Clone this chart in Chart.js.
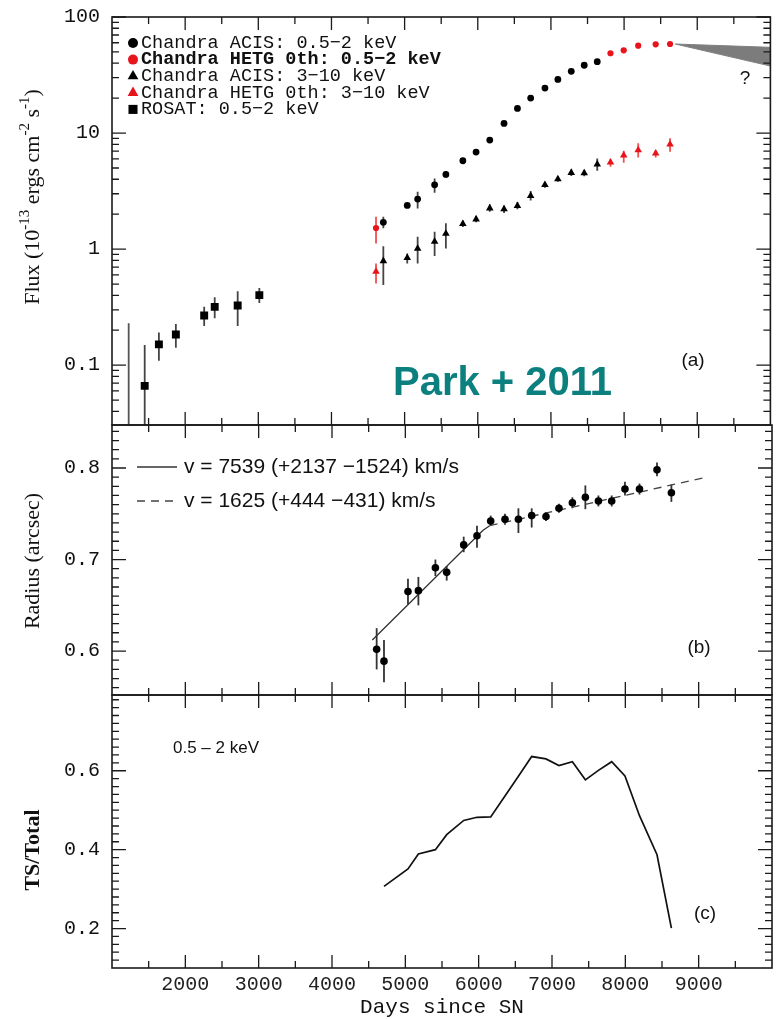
<!DOCTYPE html>
<html><head><meta charset="utf-8">
<script src="https://cdn.jsdelivr.net/npm/chart.js@4.4.1/dist/chart.umd.min.js"></script>
<style>
html,body{margin:0;padding:0;background:#fff;}
#wrap{position:relative;width:776px;height:1019px;overflow:hidden;background:#fff;}
canvas{position:absolute;left:0;}
</style></head><body>
<div id="wrap">
<canvas id="ca" width="776" height="432" style="top:0px"></canvas>
<canvas id="cb" width="776" height="284" style="top:418px"></canvas>
<canvas id="cc" width="776" height="330" style="top:689px"></canvas>
</div>
<script>
// ---------------- data ----------------
// Panel (a): X-ray light curves
const acisDays = [4709, 5036, 5178, 5410, 5564, 5796, 5977, 6164, 6359, 6542, 6723, 6918, 7095, 7278, 7455, 7633];
const acisSoftFlux = [1.70, 2.38, 2.70, 3.58, 4.40, 5.77, 6.85, 8.70, 12.1, 16.3, 20.0, 24.4, 29.0, 34.0, 38.4, 41.2];
const acisSoftLo   = [1.51, 2.30, 2.24, 3.06, 4.15, 5.54, 6.58, 8.35, 11.6, 15.6, 19.2, 23.4, 27.8, 32.6, 36.9, 39.6];
const acisSoftHi   = [1.90, 2.46, 3.12, 4.06, 4.68, 6.00, 7.12, 9.05, 12.6, 17.0, 20.8, 25.4, 30.2, 35.4, 39.9, 42.8];
const acisHardFlux = [0.79, 0.84, 1.01, 1.16, 1.36, 1.65, 1.81, 2.25, 2.21, 2.36, 2.88, 3.58, 4.01, 4.55, 4.52, 5.37];
const acisHardLo   = [0.49, 0.753, 0.753, 0.87, 1.01, 1.55, 1.70, 2.10, 2.05, 2.20, 2.62, 3.38, 3.80, 4.27, 4.25, 4.73];
const acisHardHi   = [1.06, 0.918, 1.28, 1.41, 1.67, 1.76, 1.93, 2.42, 2.38, 2.55, 3.17, 3.80, 4.24, 4.86, 4.82, 6.05];
const hetgDays = [4609, 7814, 7995, 8193, 8432, 8628];
const hetgSoftFlux = [1.52, 48.7, 51.6, 56.6, 58.2, 58.5];
const hetgSoftLo   = [1.12, 47.2, 50.0, 54.9, 56.5, 56.7];
const hetgSoftHi   = [1.90, 50.2, 53.2, 58.3, 59.9, 60.3];
const hetgHardFlux = [0.64, 5.59, 6.42, 7.13, 6.68, 8.00];
const hetgHardLo   = [0.506, 5.13, 5.55, 6.17, 6.17, 6.90];
const hetgHardHi   = [0.753, 5.97, 7.03, 8.15, 7.13, 9.00];
const rosatDays = [1447, 1641, 1873, 2260, 2404, 2718, 3014];
const rosatFlux = [0.0663, 0.151, 0.184, 0.268, 0.318, 0.327, 0.401];
const rosatLo   = [0.010, 0.109, 0.141, 0.217, 0.253, 0.217, 0.344];
const rosatHi   = [0.149, 0.191, 0.226, 0.318, 0.384, 0.434, 0.463];
const rosatLimitDays = [1228];
const rosatLimitFlux = [0.02];
const rosatLimitLo = [0.010];
const rosatLimitHi = [0.230];
const wedgeDays  = [8700, 10000];
const wedgeUpper = [58.5, 54.8];
const wedgeLower = [58.5, 37.8];

// Panel (b): radius
const radDays = [4609, 4709, 5036, 5178, 5410, 5564, 5796, 5977, 6164, 6359, 6542, 6723, 6918, 7095, 7278, 7455, 7633, 7814, 7995, 8193, 8432, 8628];
const radius  = [0.602, 0.589, 0.665, 0.666, 0.691, 0.686, 0.716, 0.726, 0.742, 0.744, 0.744, 0.748, 0.747, 0.756, 0.762, 0.768, 0.764, 0.764, 0.777, 0.777, 0.798, 0.773];
const radLo   = [0.580, 0.566, 0.651, 0.650, 0.682, 0.677, 0.708, 0.713, 0.737, 0.738, 0.729, 0.735, 0.742, 0.751, 0.756, 0.755, 0.758, 0.758, 0.770, 0.771, 0.791, 0.763];
const radHi   = [0.625, 0.612, 0.679, 0.681, 0.700, 0.693, 0.725, 0.737, 0.748, 0.750, 0.756, 0.756, 0.752, 0.761, 0.768, 0.781, 0.770, 0.770, 0.785, 0.783, 0.806, 0.782];
const fastFitDays = [4550, 6060, 6150];
const fastFitR    = [0.612, 0.732, 0.737];
const slowFitDays = [6150, 9050];
const slowFitR    = [0.737, 0.789];

// Panel (c): TS/Total ratio
const tsDays  = [4709, 5036, 5178, 5410, 5564, 5796, 5977, 6164, 6359, 6542, 6723, 6918, 7095, 7278, 7455, 7633, 7814, 7995, 8193, 8432, 8628];
const tsRatio = [0.307, 0.351, 0.389, 0.400, 0.438, 0.474, 0.482, 0.483, 0.536, 0.586, 0.636, 0.630, 0.613, 0.623, 0.577, 0.601, 0.623, 0.587, 0.486, 0.387, 0.201];

// Axis ticks
const dayMajorTicks = [2000, 3000, 4000, 5000, 6000, 7000, 8000, 9000];
const dayMinorTicks = [1500, 2500, 3500, 4500, 5500, 6500, 7500, 8500, 9500];
const fluxMajorTicks = [0.1, 1, 10, 100];
const fluxMinorTicks = [0.04,0.05,0.06,0.07,0.08,0.09,0.2,0.3,0.4,0.5,0.6,0.7,0.8,0.9,2,3,4,5,6,7,8,9,20,30,40,50,60,70,80,90];
const radiusMajorTicks = [0.6, 0.7, 0.8];
const radiusMinorTicks = [0.56,0.57,0.58,0.59,0.61,0.62,0.63,0.64,0.65,0.66,0.67,0.68,0.69,0.71,0.72,0.73,0.74,0.75,0.76,0.77,0.78,0.79,0.81,0.82,0.83,0.84];
const ratioMajorTicks = [0.2, 0.4, 0.6];
const ratioMinorTicks = [0.12,0.14,0.16,0.18,0.22,0.24,0.26,0.28,0.3,0.32,0.34,0.36,0.38,0.42,0.44,0.46,0.48,0.5,0.52,0.54,0.56,0.58,0.62,0.64,0.66,0.68,0.7,0.72,0.74,0.76,0.78];

// ---------------- helpers & plugins ----------------
const pts = (xs, ys) => xs.map((x, i) => ({x: x, y: ys[i]}));
const RED = '#e8141c';
const MONO = '"Liberation Mono", "DejaVu Sans Mono", monospace';
const SANS = '"Liberation Sans", Arial, sans-serif';
const SERIF = '"Liberation Serif", "DejaVu Serif", serif';

const errorBars = {
  id: 'errorBars',
  beforeDatasetsDraw(chart) {
    const {ctx, chartArea: a} = chart;
    ctx.save();
    ctx.beginPath(); ctx.rect(a.left, a.top, a.right - a.left, a.bottom - a.top); ctx.clip();
    chart.data.datasets.forEach((ds, di) => {
      if (!ds.errLo) return;
      const meta = chart.getDatasetMeta(di);
      const xs = chart.scales[meta.xAxisID], ys = chart.scales[meta.yAxisID];
      ctx.strokeStyle = ds.errColor; ctx.lineWidth = ds.errWidth || 1.8;
      ds.data.forEach((p, i) => {
        const x = xs.getPixelForValue(p.x);
        ctx.beginPath();
        ctx.moveTo(x, ys.getPixelForValue(ds.errLo[i]));
        ctx.lineTo(x, ys.getPixelForValue(ds.errHi[i]));
        ctx.stroke();
      });
    });
    ctx.restore();
  }
};

const frameTicks = {
  id: 'frameTicks',
  afterDatasetsDraw(chart, args, o) {
    const {ctx, chartArea: a} = chart;
    const xs = chart.scales.x, ys = chart.scales.y;
    ctx.save();
    ctx.strokeStyle = '#1a1a1a';
    ctx.lineWidth = 1.3;
    ctx.beginPath();
    const vx = (v, len) => { const p = xs.getPixelForValue(v); ctx.moveTo(p, a.top); ctx.lineTo(p, a.top + len); ctx.moveTo(p, a.bottom); ctx.lineTo(p, a.bottom - len); };
    const hy = (v, len) => { const p = ys.getPixelForValue(v); ctx.moveTo(a.left, p); ctx.lineTo(a.left + len, p); ctx.moveTo(a.right, p); ctx.lineTo(a.right - len, p); };
    o.xMajor.forEach(v => vx(v, o.majorLen));
    o.xMinor.forEach(v => vx(v, o.minorLen));
    o.yMajor.forEach(v => hy(v, o.majorLen + 1));
    o.yMinor.forEach(v => hy(v, o.minorLen));
    ctx.stroke();
    ctx.lineWidth = 1.6;
    ctx.strokeRect(a.left, a.top, a.right - a.left, a.bottom - a.top);
    ctx.restore();
  }
};

const texts = {
  id: 'texts',
  afterDraw(chart, args, o) {
    const ctx = chart.ctx;
    (o.items || []).forEach(it => {
      ctx.save();
      ctx.translate(it.x, it.y - o.top);
      if (it.rotate) ctx.rotate(it.rotate);
      ctx.fillStyle = it.color || '#111';
      ctx.textBaseline = 'middle';
      ctx.textAlign = 'left';
      const runs = it.runs || [{t: it.text, font: it.font}];
      let total = 0;
      runs.forEach(r => { ctx.font = r.font; total += ctx.measureText(r.t).width; });
      let x = it.align === 'left' ? 0 : (it.align === 'right' ? -total : -total / 2);
      runs.forEach(r => { ctx.font = r.font; ctx.fillText(r.t, x, r.dy || 0); x += ctx.measureText(r.t).width; });
      ctx.restore();
    });
  }
};

const legendMarks = {
  id: 'legendMarks',
  afterDraw(chart, args, o) {
    const ctx = chart.ctx;
    chart.data.datasets.forEach(ds => {
      if (ds.legendRow == null) return;
      const y = o.y0 + ds.legendRow * o.dy - o.top;
      ctx.save();
      if (o.kind === 'points') {
        ctx.fillStyle = ds.backgroundColor;
        Chart.helpers.drawPoint(ctx, {pointStyle: ds.pointStyle, radius: o.markerRadius[ds.pointStyle], borderWidth: 0, rotation: 0}, o.markerX, y);
      } else {
        ctx.strokeStyle = ds.borderColor; ctx.lineWidth = ds.borderWidth;
        ctx.setLineDash(ds.borderDash || []);
        ctx.beginPath(); ctx.moveTo(o.lineX0, y); ctx.lineTo(o.lineX1, y); ctx.stroke();
      }
      ctx.fillStyle = '#111';
      ctx.textBaseline = 'middle'; ctx.textAlign = 'left';
      ctx.font = (ds.legendBold ? 'bold ' : '') + o.font;
      ctx.fillText(ds.label, o.textX, y);
      ctx.restore();
    });
  }
};

Chart.register(errorBars, frameTicks, texts, legendMarks);

const xAxisBase = {type: 'linear', min: 1000, max: 10000, grid: {display: false, drawTicks: false}, border: {display: false}};
const yTickFont = {family: MONO, size: 20};
const setTicks = vals => (s => { s.ticks = vals.map(v => ({value: v})); });
const fixWidth = s => { s.width = 112; s.paddingTop = 0; s.paddingBottom = 0; };
const yGrid = {display: false, drawTicks: false};
const common = {
  responsive: false, animation: false, events: [],
  plugins: {legend: {display: false}, tooltip: {enabled: false}}
};

// ---------------- Panel (a) ----------------
new Chart(document.getElementById('ca'), {
  type: 'line',
  data: {datasets: [
    {label: 'Chandra ACIS: 0.5\u22122 keV', data: pts(acisDays, acisSoftFlux), errLo: acisSoftLo, errHi: acisSoftHi, errColor: '#444',
     showLine: false, pointStyle: 'circle', pointRadius: 3.4, backgroundColor: '#000', borderColor: '#000', pointBorderWidth: 0, legendRow: 0},
    {label: 'Chandra HETG 0th: 0.5\u22122 keV', data: pts(hetgDays, hetgSoftFlux), errLo: hetgSoftLo, errHi: hetgSoftHi, errColor: '#f05050',
     showLine: false, pointStyle: 'circle', pointRadius: 3.1, backgroundColor: RED, borderColor: RED, pointBorderWidth: 0, legendRow: 1, legendBold: true},
    {label: 'Chandra ACIS: 3\u221210 keV', data: pts(acisDays, acisHardFlux), errLo: acisHardLo, errHi: acisHardHi, errColor: '#444',
     showLine: false, pointStyle: 'triangle', pointRadius: 4.4, backgroundColor: '#000', borderColor: '#000', pointBorderWidth: 0, legendRow: 2},
    {label: 'Chandra HETG 0th: 3\u221210 keV', data: pts(hetgDays, hetgHardFlux), errLo: hetgHardLo, errHi: hetgHardHi, errColor: '#f05050',
     showLine: false, pointStyle: 'triangle', pointRadius: 4.4, backgroundColor: RED, borderColor: RED, pointBorderWidth: 0, legendRow: 3},
    {label: 'ROSAT: 0.5\u22122 keV', data: pts(rosatDays, rosatFlux), errLo: rosatLo, errHi: rosatHi, errColor: '#444',
     showLine: false, pointStyle: 'rect', pointRadius: 5.6, backgroundColor: '#000', borderColor: '#000', pointBorderWidth: 0, legendRow: 4},
    {label: 'ROSAT limit', data: pts(rosatLimitDays, rosatLimitFlux), errLo: rosatLimitLo, errHi: rosatLimitHi, errColor: '#555',
     showLine: false, pointRadius: 0},
    {label: 'upper', data: pts(wedgeDays, wedgeUpper), pointRadius: 0, borderColor: '#808080', borderWidth: 1, fill: false},
    {label: 'lower', data: pts(wedgeDays, wedgeLower), pointRadius: 0, borderColor: '#808080', borderWidth: 1, fill: '-1', backgroundColor: '#7c7c7c'}
  ]},
  options: Object.assign({}, common, {
    layout: {padding: {top: 17, right: 4, bottom: 7, left: 0}},
    scales: {
      x: Object.assign({}, xAxisBase, {display: false}),
      y: {type: 'logarithmic', min: 0.0305, max: 100, afterBuildTicks: setTicks(fluxMajorTicks), afterFit: fixWidth,
          grid: yGrid, border: {display: false},
          ticks: {padding: 12, font: yTickFont, color: '#111', callback: v => String(v)}}
    },
    plugins: Object.assign({}, common.plugins, {
      frameTicks: {xMajor: dayMajorTicks, xMinor: dayMinorTicks, yMajor: fluxMajorTicks, yMinor: fluxMinorTicks, majorLen: 13, minorLen: 7},
      legendMarks: {kind: 'points', top: 0, y0: 43, dy: 16.6, markerX: 133, textX: 141, font: '18.5px ' + MONO,
                    markerRadius: {circle: 5, triangle: 6.2, rect: 6.4}},
      texts: {top: 0, items: [
        {x: 33, y: 197, rotate: -Math.PI / 2, runs: [
          {t: 'Flux (10', font: '22px ' + SERIF},
          {t: '-13', font: '15px ' + SERIF, dy: -8},
          {t: ' ergs cm', font: '22px ' + SERIF},
          {t: '-2', font: '15px ' + SERIF, dy: -8},
          {t: ' s', font: '22px ' + SERIF},
          {t: '-1', font: '15px ' + SERIF, dy: -8},
          {t: ')', font: '22px ' + SERIF}]},
        {x: 693, y: 361, text: '(a)', font: '19px ' + SANS},
        {x: 745, y: 79, text: '?', font: '19px ' + SANS},
        {x: 393, y: 384, align: 'left', text: 'Park + 2011', font: 'bold 40px ' + SANS, color: '#0b807e'}
      ]}
    })
  })
});

// ---------------- Panel (b) ----------------
new Chart(document.getElementById('cb'), {
  type: 'line',
  data: {datasets: [
    {label: 'Radius', data: pts(radDays, radius), errLo: radLo, errHi: radHi, errColor: '#333',
     showLine: false, pointStyle: 'circle', pointRadius: 3.8, backgroundColor: '#000', borderColor: '#000', pointBorderWidth: 0},
    {label: 'v = 7539 (+2137 \u22121524) km/s', data: pts(fastFitDays, fastFitR), pointRadius: 0, borderColor: '#333', borderWidth: 1.3, legendRow: 0},
    {label: 'v = 1625 (+444 \u2212431) km/s', data: pts(slowFitDays, slowFitR), pointRadius: 0, borderColor: '#444', borderWidth: 1.3, borderDash: [8, 6], legendRow: 1}
  ]},
  options: Object.assign({}, common, {
    layout: {padding: {top: 7, right: 4, bottom: 7, left: 0}},
    scales: {
      x: Object.assign({}, xAxisBase, {display: false}),
      y: {type: 'linear', min: 0.552, max: 0.847, afterBuildTicks: setTicks(radiusMajorTicks), afterFit: fixWidth,
          grid: yGrid, border: {display: false},
          ticks: {padding: 12, font: yTickFont, color: '#111', callback: v => v.toFixed(1)}}
    },
    plugins: Object.assign({}, common.plugins, {
      frameTicks: {xMajor: dayMajorTicks, xMinor: dayMinorTicks, yMajor: radiusMajorTicks, yMinor: radiusMinorTicks, majorLen: 13, minorLen: 7},
      legendMarks: {kind: 'lines', top: 418, y0: 467, dy: 34, lineX0: 137, lineX1: 177, textX: 184, font: '21px ' + SANS},
      texts: {top: 418, items: [
        {x: 33, y: 561, rotate: -Math.PI / 2, text: 'Radius (arcsec)', font: '22px ' + SERIF},
        {x: 699, y: 648, text: '(b)', font: '19px ' + SANS}
      ]}
    })
  })
});

// ---------------- Panel (c) ----------------
new Chart(document.getElementById('cc'), {
  type: 'line',
  data: {datasets: [
    {label: 'TS/Total', data: pts(tsDays, tsRatio), pointRadius: 0, borderColor: '#111', borderWidth: 1.7, tension: 0}
  ]},
  options: Object.assign({}, common, {
    layout: {padding: {top: 6, right: 4, bottom: 0, left: 0}},
    scales: {
      x: Object.assign({}, xAxisBase, {
        afterBuildTicks: setTicks(dayMajorTicks),
        afterFit: s => { s.height = 51; },
        ticks: {padding: 5, font: {family: MONO, size: 20}, color: '#222', maxRotation: 0, autoSkip: false, callback: v => String(v)},
        title: {display: true, text: 'Days since SN', font: {family: MONO, size: 21, lineHeight: 1}, color: '#111', padding: {top: 0, bottom: 1}}
      }),
      y: {type: 'linear', min: 0.1, max: 0.792, afterBuildTicks: setTicks(ratioMajorTicks), afterFit: fixWidth,
          grid: yGrid, border: {display: false},
          ticks: {padding: 12, font: yTickFont, color: '#111', callback: v => v.toFixed(1)}}
    },
    plugins: Object.assign({}, common.plugins, {
      frameTicks: {xMajor: dayMajorTicks, xMinor: dayMinorTicks, yMajor: ratioMajorTicks, yMinor: ratioMinorTicks, majorLen: 13, minorLen: 7},
      texts: {top: 689, items: [
        {x: 33, y: 850, rotate: -Math.PI / 2, text: 'TS/Total', font: 'bold 22px ' + SERIF},
        {x: 173, y: 748, align: 'left', text: '0.5 \u2013 2 keV', font: '17px ' + SANS},
        {x: 705, y: 914, text: '(c)', font: '19px ' + SANS}
      ]}
    })
  })
});
</script>
</body></html>
